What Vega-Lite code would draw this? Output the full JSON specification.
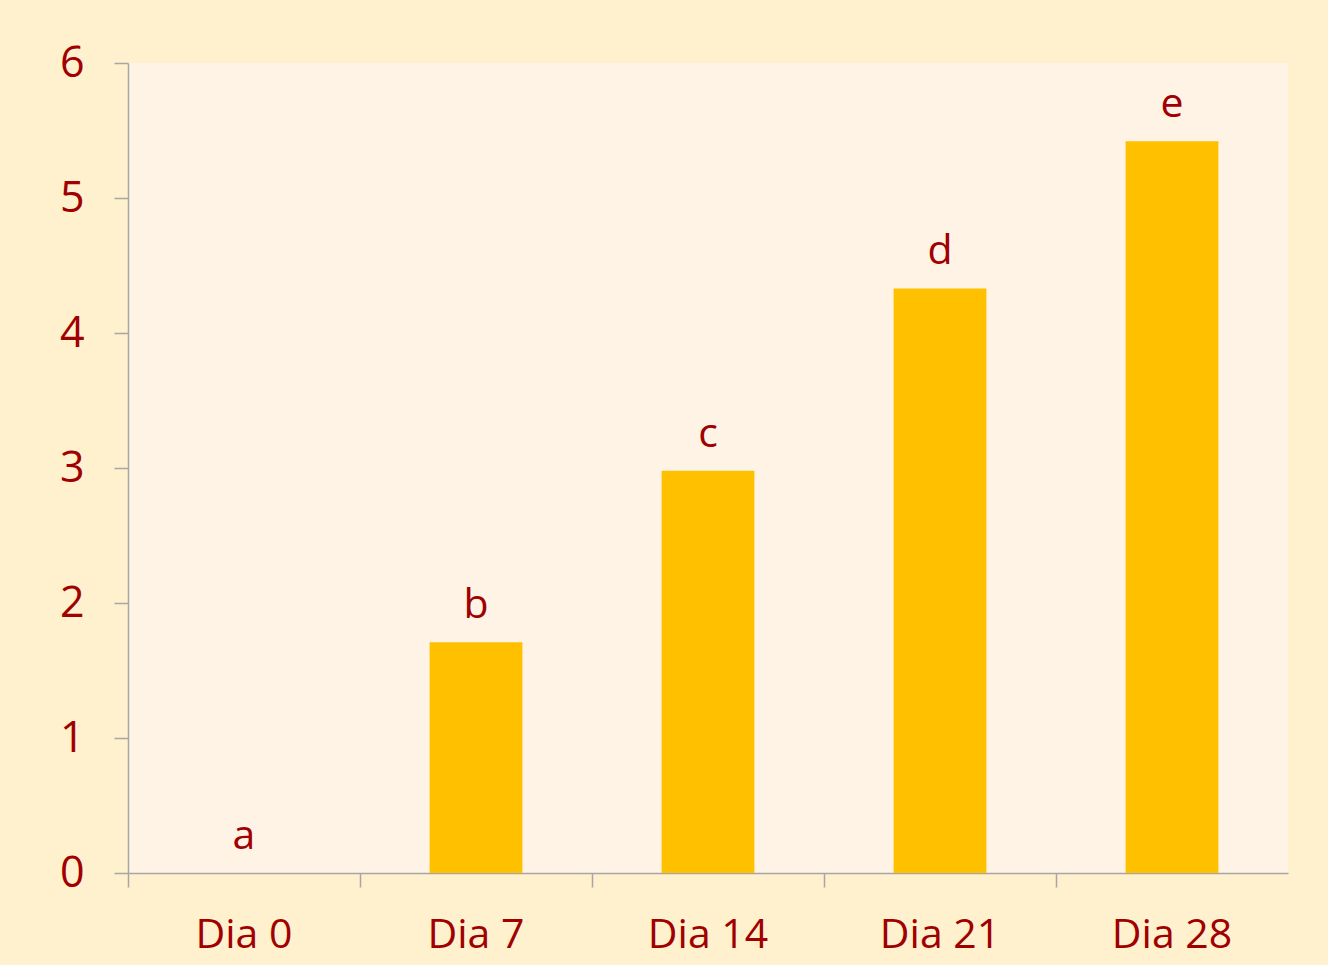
{
  "$schema": "https://vega.github.io/schema/vega-lite/v6.json",
  "width": 1160,
  "height": 810,
  "autosize": {"type": "none"},
  "padding": {"left": 128, "top": 63, "right": 40, "bottom": 92},
  "background": "#FFF1CE",
  "config": {
    "view": {"fill": "#FFF3E6", "stroke": null},
    "font": "Open Sans"
  },
  "data": {
    "values": [
      {"dia": "Dia 0", "valor": 0, "letra": "a"},
      {"dia": "Dia 7", "valor": 1.71, "letra": "b"},
      {"dia": "Dia 14", "valor": 2.98, "letra": "c"},
      {"dia": "Dia 21", "valor": 4.33, "letra": "d"},
      {"dia": "Dia 28", "valor": 5.42, "letra": "e"}
    ]
  },
  "encoding": {
    "x": {
      "field": "dia",
      "type": "nominal",
      "sort": null,
      "scale": {"paddingInner": 0, "paddingOuter": 0},
      "axis": {
        "title": null,
        "labelAngle": 0,
        "labelFont": "Open Sans",
        "labelFontSize": 41,
        "labelColor": "#A00000",
        "labelPadding": 28,
        "bandPosition": 0,
        "tickSize": 14,
        "tickColor": "#A6A6A6",
        "domainColor": "#A6A6A6",
        "tickWidth": 1.5,
        "domainWidth": 1.5,
        "grid": false
      }
    },
    "y": {
      "field": "valor",
      "type": "quantitative",
      "scale": {"domain": [0, 6], "nice": false},
      "axis": {
        "title": null,
        "values": [0, 1, 2, 3, 4, 5, 6],
        "labelFont": "Open Sans",
        "labelFontSize": 43,
        "labelColor": "#A00000",
        "labelPadding": 30,
        "tickSize": 14,
        "tickColor": "#A6A6A6",
        "domainColor": "#A6A6A6",
        "tickWidth": 1.5,
        "domainWidth": 1.5,
        "grid": false
      }
    }
  },
  "layer": [
    {
      "mark": {"type": "bar", "color": "#FFC000", "width": {"band": 0.4}}
    },
    {
      "mark": {
        "type": "text",
        "baseline": "alphabetic",
        "dy": -24,
        "fontSize": 41,
        "font": "Open Sans",
        "color": "#A00000"
      },
      "encoding": {"text": {"field": "letra"}}
    }
  ]
}
